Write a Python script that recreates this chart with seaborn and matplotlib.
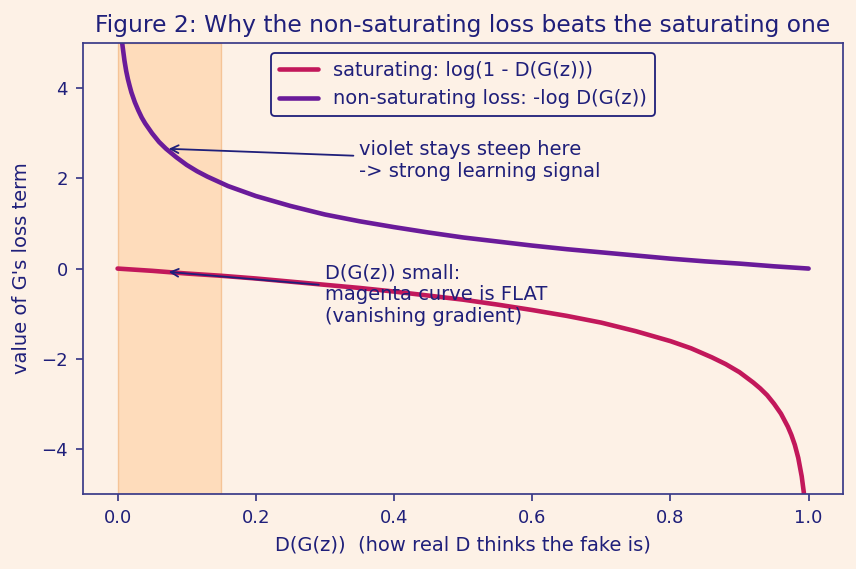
import matplotlib.pyplot as plt
import seaborn as sns
import pandas as pd

# values
x_sat = [0.0, 0.05, 0.1, 0.15, 0.2, 0.25, 0.3, 0.35, 0.4, 0.45, 0.5, 0.55, 0.6, 0.65,
         0.7, 0.75, 0.8, 0.83, 0.86, 0.88, 0.9, 0.92, 0.93, 0.94, 0.95, 0.96, 0.97,
         0.975, 0.98, 0.985, 0.99, 0.993, 0.995]
y_sat = [0.0, -0.05, -0.11, -0.16, -0.22, -0.29, -0.36, -0.43, -0.51, -0.60, -0.69,
         -0.80, -0.92, -1.05, -1.20, -1.39, -1.61, -1.77, -1.97, -2.12, -2.30, -2.53,
         -2.66, -2.81, -3.00, -3.22, -3.51, -3.69, -3.91, -4.20, -4.61, -4.96, -5.30]

x_ns = [0.005, 0.007, 0.01, 0.0125, 0.015, 0.0175, 0.02, 0.025, 0.03, 0.035, 0.04, 0.05,
        0.06, 0.07, 0.085, 0.1, 0.115, 0.13, 0.16, 0.2, 0.25, 0.3, 0.35, 0.4, 0.45,
        0.5, 0.55, 0.6, 0.65, 0.7, 0.75, 0.8, 0.85, 0.9, 0.95, 1.0]
y_ns = [5.30, 4.96, 4.61, 4.38, 4.20, 4.05, 3.91, 3.69, 3.51, 3.35, 3.22, 3.00,
        2.81, 2.66, 2.47, 2.30, 2.16, 2.04, 1.83, 1.61, 1.39, 1.20, 1.05, 0.92, 0.80,
        0.69, 0.60, 0.51, 0.43, 0.36, 0.29, 0.22, 0.16, 0.11, 0.05, 0.0]

bg = "#fdf1e6"
navy = "#1f1f7a"
magenta = "#c2185b"
violet = "#6a1b9a"

sns.set_theme(style="ticks")
plt.rcParams.update({
    "figure.facecolor": bg,
    "axes.facecolor": bg,
    "axes.edgecolor": "#3a3a88",
    "axes.labelcolor": navy,
    "xtick.color": "#3a3a88",
    "ytick.color": "#3a3a88",
    "xtick.labelcolor": navy,
    "ytick.labelcolor": navy,
    "text.color": navy,
})
plt.rcParams["font.family"] = ["DejaVu Sans"]

sat = pd.DataFrame({"x": x_sat, "y": y_sat})
ns = pd.DataFrame({"x": x_ns, "y": y_ns})

fig, ax = plt.subplots(figsize=(8.56, 5.69), dpi=100)
fig.subplots_adjust(left=0.097, right=0.985, top=0.924, bottom=0.132)

ax.axvspan(0.0, 0.15, color="#ffcc99", alpha=0.55, ec="#f0a868", lw=1)
sns.lineplot(data=sat, x="x", y="y", ax=ax, color=magenta, lw=3.3, sort=False,
             label="saturating: log(1 - D(G(z)))")
sns.lineplot(data=ns, x="x", y="y", ax=ax, color=violet, lw=3.3, sort=False,
             label="non-saturating loss: -log D(G(z))")

ax.set_xlim(-0.05, 1.05)
ax.set_ylim(-5, 5)
ax.set_xticks([0.0, 0.2, 0.4, 0.6, 0.8, 1.0])
ax.set_yticks([-4, -2, 0, 2, 4])
ax.tick_params(labelsize=13, length=5, pad=6)

ax.set_title("Figure 2: Why the non-saturating loss beats the saturating one",
             fontsize=16.8, color=navy, pad=8)
ax.set_xlabel("D(G(z))  (how real D thinks the fake is)", fontsize=14, labelpad=6)
ax.set_ylabel("value of G's loss term", fontsize=14, labelpad=7)

ax.annotate("violet stays steep here\n-> strong learning signal", xy=(0.07, 2.66),
            xytext=(0.35, 2.4), va="center", fontsize=14, color=navy,
            linespacing=1.18,
            arrowprops=dict(arrowstyle="->", color=navy, lw=1.3))
ax.annotate("D(G(z)) small:\nmagenta curve is FLAT\n(vanishing gradient)",
            xy=(0.07, -0.07), xytext=(0.30, -0.58), va="center", fontsize=14,
            color=navy, linespacing=1.18,
            arrowprops=dict(arrowstyle="->", color=navy, lw=1.3))

leg = ax.legend(loc="upper center", fontsize=14, frameon=True, facecolor=bg,
                edgecolor=navy, framealpha=1, borderaxespad=0.5)
leg.get_frame().set_linewidth(1.3)

fig.savefig("out.png", dpi=100, facecolor=bg)
